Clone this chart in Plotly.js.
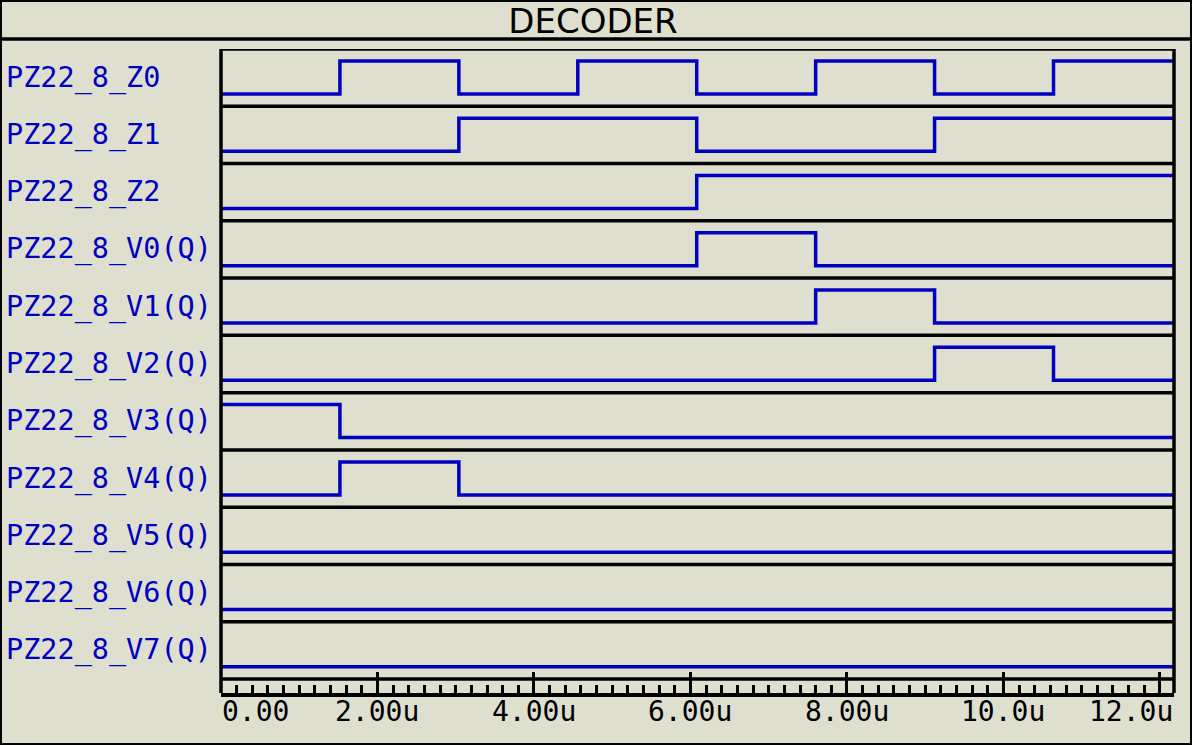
<!DOCTYPE html>
<html>
<head>
<meta charset="utf-8">
<script src="https://cdn.plot.ly/plotly-3.0.1.min.js"></script>
<style>html,body{margin:0;padding:0;background:#dfdfd0;}#chart{width:1192px;height:745px;}</style>
</head>
<body>
<div id="chart"></div>
<script>
// ---- data ----
const chartTitle = "DECODER";
const xMax = 12.18; // end of simulated time (u)
const times = [0, 1.52, 3.04, 4.56, 6.08, 7.60, 9.12, 10.64];
const signalNames = ["PZ22_8_Z0","PZ22_8_Z1","PZ22_8_Z2","PZ22_8_V0(Q)","PZ22_8_V1(Q)","PZ22_8_V2(Q)","PZ22_8_V3(Q)","PZ22_8_V4(Q)","PZ22_8_V5(Q)","PZ22_8_V6(Q)","PZ22_8_V7(Q)"];
const Z0 = [0,1,0,1,0,1,0,1];
const Z1 = [0,0,1,1,0,0,1,1];
const Z2 = [0,0,0,0,1,1,1,1];
const V0 = [0,0,0,0,1,0,0,0];
const V1 = [0,0,0,0,0,1,0,0];
const V2 = [0,0,0,0,0,0,1,0];
const V3 = [1,0,0,0,0,0,0,0];
const V4 = [0,1,0,0,0,0,0,0];
const V5 = [0,0,0,0,0,0,0,0];
const V6 = [0,0,0,0,0,0,0,0];
const V7 = [0,0,0,0,0,0,0,0];
const signals = [Z0,Z1,Z2,V0,V1,V2,V3,V4,V5,V6,V7];
const tickVals = [0,2,4,6,8,10,12];
const tickText = ["0.00","2.00u","4.00u","6.00u","8.00u","10.0u","12.0u"];

// ---- styling ----
const BG = "#dfdfd0";
const BLUE = "#0000c0";
const nRows = signals.length;
const lowOff = 0.785, amp = 0.576;
const yBottom = -(nRows + 0.244);

const traces = signals.map((vals, k) => ({
  type: "scatter", mode: "lines",
  x: times.concat([xMax]),
  y: vals.concat([vals[vals.length-1]]).map(v => -(k + lowOff - v*amp)),
  line: {shape: "hv", color: BLUE, width: 3.5},
  hoverinfo: "skip", showlegend: false
}));

const shapes = [];
// outer border
shapes.push({type:"rect", xref:"paper", yref:"paper", x0:0, x1:1, y0:0, y1:1, line:{color:"black", width:4}});
// title separator
shapes.push({type:"line", xref:"paper", yref:"paper", x0:0, x1:1, y0:(745-39)/745, y1:(745-39)/745, line:{color:"black", width:3.5}});
// row separators
for (let k = 0; k <= nRows; k++) {
  shapes.push({type:"line", xref:"x domain", yref:"y", x0:0, x1:1, y0:-k, y1:-k, line:{color:"black", width:3.5}});
}
// left & right frame
shapes.push({type:"line", xref:"x domain", yref:"y", x0:0, x1:0, y0:0, y1:yBottom, line:{color:"black", width:3.5}});
shapes.push({type:"line", xref:"x domain", yref:"y", x0:1, x1:1, y0:0, y1:yBottom, line:{color:"black", width:3.5}});

const annotations = [];
signalNames.forEach((name, k) => {
  annotations.push({xref:"paper", yref:"y", x:5/1192, y:-(k+0.5), xanchor:"left", yanchor:"middle",
    text:name, showarrow:false, borderpad:0, font:{family:"DejaVu Sans Mono", size:28.5, color:BLUE}});
});
tickVals.forEach((v, i) => {
  let xa = "center", xx = v;
  if (i === 0) xa = "left";
  if (i === tickVals.length-1) { xa = "right"; xx = xMax; }
  annotations.push({xref:"x", yref:"paper", x:xx, y:(745-711)/745, xanchor:xa, yanchor:"middle",
    text:tickText[i], showarrow:false, borderpad:0, font:{family:"DejaVu Sans Mono", size:28, color:"black"}});
});

const layout = {
  width:1192, height:745,
  paper_bgcolor:BG, plot_bgcolor:BG,
  margin:{l:0,r:0,t:0,b:0},
  title:{text:chartTitle, x:593/1192, xanchor:"center", y:(745-21)/745, yanchor:"middle",
    font:{family:"DejaVu Sans", size:34, color:"black"}},
  xaxis:{domain:[221/1192, 1174/1192], range:[0, xMax], showgrid:false, zeroline:false,
    showline:true, linecolor:"black", linewidth:3.5,
    tickvals:tickVals, ticks:"inside", ticklen:21, tickwidth:3, tickcolor:"black", showticklabels:false,
    minor:{dtick:0.2, ticks:"inside", ticklen:8, tickwidth:3, tickcolor:"black", showgrid:false},
    fixedrange:true},
  yaxis:{domain:[(745-693)/745, (745-49)/745], range:[yBottom, 0], showgrid:false, zeroline:false,
    showline:false, showticklabels:false, ticks:"", fixedrange:true},
  shapes:shapes, annotations:annotations, hovermode:false
};

Plotly.newPlot("chart", traces, layout, {displayModeBar:false, staticPlot:true});
</script>
</body>
</html>
